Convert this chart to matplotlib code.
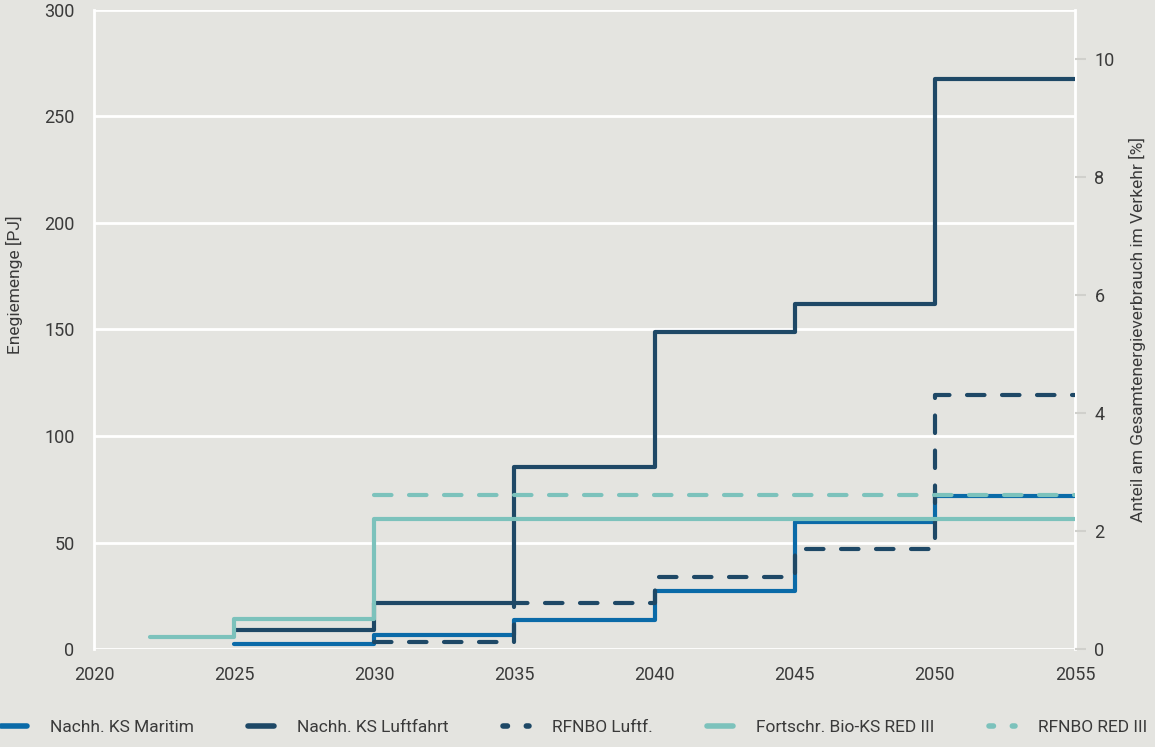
import numpy as np
import matplotlib
matplotlib.use('Agg')
import matplotlib.pyplot as plt
from matplotlib.lines import Line2D

plt.rcParams['font.family'] = ['Roboto', 'DejaVu Sans']
plt.rcParams['font.size'] = 12

# data (PJ), steps start at each year
years = [2025, 2030, 2035, 2040, 2045, 2050, 2055]
maritim = [2.5, 6.8, 13.6, 27.2, 59.6, 71.8, 71.8]
luftfahrt = [8.9, 21.6, 85.4, 149.0, 162.0, 267.6, 267.6]
rfnbo_luftf_years = [2030, 2035, 2040, 2045, 2050, 2055]
rfnbo_luftf = [3.3, 21.6, 33.8, 47.0, 119.2, 119.2]
bio_years = [2022, 2025, 2030, 2055]
bio_red3 = [5.6, 14.0, 61.0, 61.0]
rfnbo_red3_years = [2030, 2055]
rfnbo_red3 = [72.3, 72.3]

c_blue = '#0a6aa8'
c_navy = '#1e4866'
c_teal = '#7cc2bc'
bg = '#e4e4e0'
txt = '#3a3a3a'

fig = plt.figure(figsize=(11.55, 7.47), dpi=100, facecolor=bg)
ax = fig.add_axes([94/1155, 98/747, 981/1155, 639/747], facecolor=bg)

lw = 3.0
dash = (0, (4.2, 4.2))
ax.plot(years, maritim, drawstyle='steps-post', color=c_blue, lw=lw,
        solid_capstyle='round', solid_joinstyle='round', zorder=3)
ax.plot(years, luftfahrt, drawstyle='steps-post', color=c_navy, lw=lw,
        solid_capstyle='round', solid_joinstyle='round', zorder=3)
ax.plot(rfnbo_luftf_years, rfnbo_luftf, drawstyle='steps-post', color=c_navy, lw=lw,
        ls=dash, dash_capstyle='round', zorder=3)
ax.plot(bio_years, bio_red3, drawstyle='steps-post', color=c_teal, lw=lw,
        solid_capstyle='round', solid_joinstyle='round', zorder=3)
ax.plot(rfnbo_red3_years, rfnbo_red3, drawstyle='steps-post', color=c_teal, lw=lw,
        ls=dash, dash_capstyle='round', zorder=3)

ax.set_xlim(2020, 2055)
ax.set_ylim(0, 300)
ax.set_xticks(np.arange(2020, 2056, 5))
ax.set_yticks(np.arange(0, 301, 50))
ax.grid(axis='y', color='white', lw=2)
ax.set_axisbelow(True)
for s in ['top', 'bottom']:
    ax.spines[s].set_visible(False)
for s in ['left', 'right']:
    ax.spines[s].set_color('white')
    ax.spines[s].set_linewidth(2)
ax.tick_params(axis='both', length=0, colors=txt, labelsize=13)
ax.tick_params(axis='x', pad=12)
ax.tick_params(axis='y', pad=14)
ax.set_ylabel('Enegiemenge [PJ]', color=txt, fontsize=12.5)
ax.yaxis.set_label_coords(-0.072, 0.57)

ax2 = ax.twinx()
ax2.set_ylim(0, 639 / 59)
ax2.set_yticks(np.arange(0, 11, 2))
for s in ax2.spines.values():
    s.set_visible(False)
ax2.tick_params(axis='y', length=8, width=1.5, color='#d0d0cc', colors=txt, labelsize=13, pad=6)
ax2.set_ylabel('Anteil am Gesamtenergieverbrauch im Verkehr [%]', color=txt, fontsize=12.5, labelpad=10)

# legend proxies, dashed ones shown as two dots like the original
dots = (0, (0.8, 3.4))
handles = [
    Line2D([], [], color=c_blue, lw=4, solid_capstyle='round'),
    Line2D([], [], color=c_navy, lw=4, solid_capstyle='round'),
    Line2D([], [], color=c_navy, lw=4, ls=dots, dash_capstyle='round'),
    Line2D([], [], color=c_teal, lw=4, solid_capstyle='round'),
    Line2D([], [], color=c_teal, lw=4, ls=dots, dash_capstyle='round'),
]
labels = ['Nachh. KS Maritim', 'Nachh. KS Luftfahrt', 'RFNBO Luftf.',
          'Fortschr. Bio-KS RED III', 'RFNBO RED III']
fig.legend(handles, labels, loc='lower center', bbox_to_anchor=(0.497, -0.005), ncol=5,
           frameon=False, fontsize=12.5, handlelength=1.5, columnspacing=3.15,
           handletextpad=1.3, labelcolor=txt)

fig.savefig('out.png', dpi=100, facecolor=bg)
